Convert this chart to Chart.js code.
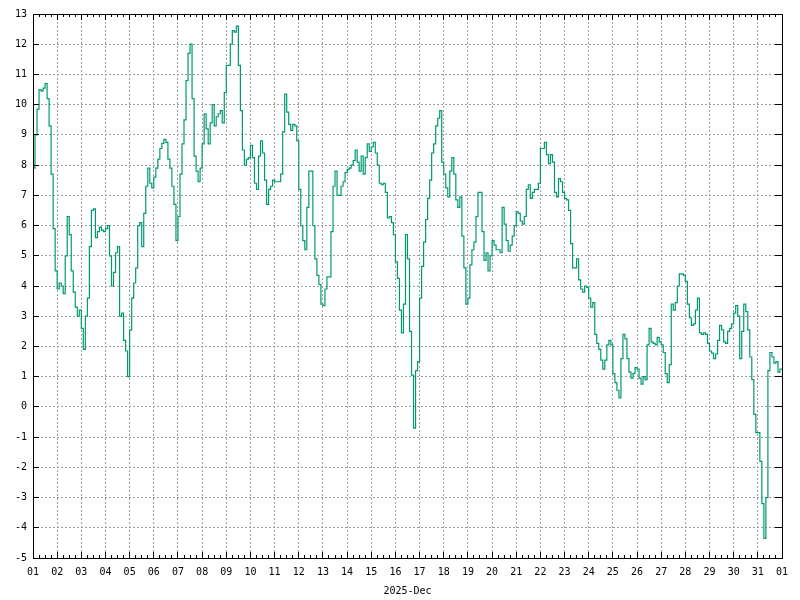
<!DOCTYPE html>
<html>
<head>
<meta charset="utf-8">
<title>Temperature 2025-Dec</title>
<script src="https://cdn.jsdelivr.net/npm/chart.js@4/dist/chart.umd.min.js"></script>
<style>
    html, body { margin: 0; padding: 0; background: #fff; }
    canvas { display: block; }
</style>
</head>
<body>
<canvas id="tempChart" width="800" height="600"></canvas>
<script>
// Readings every 2 hours, one array per week
const week1 = [
    7.0, 7.9, 9.0, 9.85, 10.5, 10.45, 10.55, 10.7, 10.2, 9.3, 7.7, 5.9,
    4.5, 3.9, 4.1, 4.0, 3.75, 5.0, 6.3, 5.7, 4.5, 3.8, 3.3, 3.0,
    3.2, 2.6, 1.9, 3.0, 3.6, 5.3, 6.5, 6.55, 5.6, 5.8, 5.95, 5.85,
    5.8, 5.9, 6.0, 5.0, 4.0, 4.45, 5.1, 5.3, 3.0, 3.1, 2.2, 1.85,
    1.0, 2.55, 3.6, 4.1, 4.6, 6.0, 6.1, 5.3, 6.4, 7.3, 7.9, 7.4,
    7.25, 7.6, 7.9, 8.2, 8.55, 8.72, 8.85, 8.75, 8.2, 7.9, 7.3, 6.7,
    5.5, 6.3, 7.7, 8.7, 9.5, 10.8, 11.7, 12.0, 10.2, 8.3, 7.8, 7.45
];
const week2 = [
    7.9, 8.7, 9.7, 9.2, 8.7, 9.4, 10.0, 9.3, 9.6, 9.7, 9.8, 9.4,
    10.4, 11.3, 11.3, 12.0, 12.45, 12.4, 12.6, 11.3, 9.8, 8.5, 8.0, 8.2,
    8.25, 8.65, 8.25, 7.4, 7.2, 8.3, 8.8, 8.4, 7.5, 6.7, 7.2, 7.3,
    7.5, 7.45, 7.45, 7.45, 7.7, 9.1, 10.35, 9.75, 9.35, 9.15, 9.35, 9.3,
    8.8, 7.2, 6.0, 5.5, 5.2, 6.6, 7.8, 7.8, 6.0, 4.9, 4.35, 4.05,
    3.4, 3.35, 3.9, 4.3, 4.3, 5.8, 7.3, 7.8, 7.0, 7.0, 7.3, 7.45,
    7.75, 7.85, 7.9, 8.0, 8.15, 8.5, 8.1, 7.8, 8.3, 7.7, 8.25, 8.7
];
const week3 = [
    8.45, 8.6, 8.75, 8.4, 8.0, 7.4, 7.35, 7.4, 7.1, 6.25, 6.3, 6.1,
    5.7, 4.8, 4.25, 3.2, 2.45, 3.4, 5.7, 4.9, 2.5, 1.05, -0.7, 1.2,
    1.5, 3.6, 4.65, 5.45, 6.2, 6.9, 7.5, 8.4, 8.7, 9.3, 9.55, 9.8,
    8.1, 7.7, 7.25, 6.95, 7.8, 8.25, 7.7, 6.85, 6.6, 6.95, 5.65, 4.6,
    3.4, 3.6, 4.7, 5.2, 5.45, 6.3, 7.1, 7.1, 5.8, 4.85, 5.1, 4.5,
    5.0, 5.5, 5.35, 5.2, 5.2, 5.1, 6.6, 6.05, 5.5, 5.15, 5.35, 5.65,
    6.0, 6.45, 6.4, 6.15, 6.05, 6.3, 7.2, 7.35, 6.9, 7.1, 7.2, 7.2
];
const week4 = [
    7.4, 8.55, 8.55, 8.75, 8.35, 8.05, 8.35, 8.1, 7.1, 6.95, 7.55, 7.45,
    7.1, 6.9, 6.85, 6.5, 5.4, 4.6, 4.6, 4.9, 4.2, 3.9, 3.8, 4.0,
    3.95, 3.6, 3.3, 3.45, 2.4, 2.1, 1.9, 1.55, 1.25, 1.55, 2.05, 2.2,
    2.05, 1.1, 0.8, 0.55, 0.3, 1.6, 2.4, 2.25, 1.6, 1.15, 0.95, 1.1,
    1.3, 1.25, 0.95, 0.75, 1.0, 0.9, 2.05, 2.6, 2.15, 2.1, 2.05, 2.3,
    2.15, 2.05, 1.8, 1.1, 0.8, 1.4, 3.4, 3.2, 3.45, 4.0, 4.4, 4.4,
    4.35, 4.15, 3.4, 2.95, 2.7, 2.75, 3.2, 3.6, 2.45, 2.4, 2.45, 2.4
];
// Dec 29 - Dec 31, plus the first reading of Jan 1
const week5 = [
    2.1, 1.85, 1.78, 1.6, 1.75, 2.2, 2.7, 2.55, 2.15, 2.1, 2.5, 2.6,
    2.75, 3.1, 3.35, 3.0, 1.6, 2.5, 3.4, 3.15, 2.55, 1.65, 0.9, -0.25,
    -0.85, -0.85, -1.8, -3.2, -4.35, -3.0, 1.2, 1.8, 1.65, 1.45, 1.5, 1.15,
    1.25
];

const readingsPerDay = 12;
const dayLabels = ['01', '02', '03', '04', '05', '06', '07', '08', '09', '10',
    '11', '12', '13', '14', '15', '16', '17', '18', '19', '20', '21', '22',
    '23', '24', '25', '26', '27', '28', '29', '30', '31', '01'];
const yMin = -5;
const yMax = 13;
const axisTitle = '2025-Dec';

const lineColor = '#009a72';
const gridColor = '#a0a0a0';
const tickFont = { family: '"DejaVu Sans Mono", monospace', size: 10 };

// Frame around the plot plus inward ticks (6h minor ticks on top/bottom)
const frameTicks = {
    id: 'frameTicks',
    afterDraw(chart) {
        const { ctx, chartArea: a, scales: { x, y } } = chart;
        const snap = (p) => Math.round(p - 0.5) + 0.5;

        ctx.save();
        ctx.strokeStyle = '#000';
        ctx.lineWidth = 1;
        ctx.beginPath();

        const steps = (dayLabels.length - 1) * 4;
        for (let i = 0; i <= steps; i++) {
            const px = snap(x.getPixelForValue(1 + i / 4));
            const len = i % 4 === 0 ? 6 : 3;
            ctx.moveTo(px, a.top);
            ctx.lineTo(px, a.top + len);
            ctx.moveTo(px, a.bottom);
            ctx.lineTo(px, a.bottom - len);
        }
        for (let v = yMin; v <= yMax; v++) {
            const py = snap(y.getPixelForValue(v));
            ctx.moveTo(a.left, py);
            ctx.lineTo(a.left + 6, py);
            ctx.moveTo(a.right, py);
            ctx.lineTo(a.right - 7, py);
        }
        ctx.stroke();

        ctx.strokeRect(snap(a.left), snap(a.top),
            Math.round(a.right - a.left), Math.round(a.bottom - a.top));
        ctx.restore();
    }
};

class TemperatureChart {
    constructor(canvasId) {
        this.canvas = document.getElementById(canvasId);
        this.chart = null;
    }

    // Join the weekly arrays into {x: day, y: value} points
    buildPoints() {
        const values = [...week1, ...week2, ...week3, ...week4, ...week5];
        return values.map((v, i) => ({ x: 1 + i / readingsPerDay, y: v }));
    }

    init() {
        this.chart = new Chart(this.canvas, {
            type: 'line',
            data: {
                datasets: [{
                    data: this.buildPoints(),
                    borderColor: lineColor,
                    borderWidth: 1.2,
                    pointRadius: 0,
                    stepped: 'after',
                    fill: false
                }]
            },
            options: {
                responsive: false,
                animation: false,
                layout: { padding: { top: 14, right: 18, left: 0, bottom: 0 } },
                plugins: {
                    legend: { display: false },
                    tooltip: { enabled: false }
                },
                scales: {
                    x: {
                        type: 'linear',
                        min: 1,
                        max: dayLabels.length,
                        afterFit: (scale) => { scale.height = 42; },
                        grid: { color: gridColor, lineWidth: 1, drawTicks: false },
                        border: { display: false, dash: [2, 2] },
                        ticks: {
                            stepSize: 1,
                            autoSkip: false,
                            maxRotation: 0,
                            padding: 8,
                            color: '#000',
                            font: tickFont,
                            callback: (v) => dayLabels[v - 1]
                        },
                        title: {
                            display: true,
                            text: axisTitle,
                            color: '#000',
                            font: tickFont,
                            padding: { top: 0, bottom: 3 }
                        }
                    },
                    y: {
                        min: yMin,
                        max: yMax,
                        afterFit: (scale) => { scale.width = 33; },
                        grid: { color: gridColor, lineWidth: 1, drawTicks: false },
                        border: { display: false, dash: [2, 2] },
                        ticks: {
                            stepSize: 1,
                            padding: 6,
                            color: '#000',
                            font: tickFont
                        }
                    }
                }
            },
            plugins: [frameTicks]
        });
    }
}

new TemperatureChart('tempChart').init();
</script>
</body>
</html>
